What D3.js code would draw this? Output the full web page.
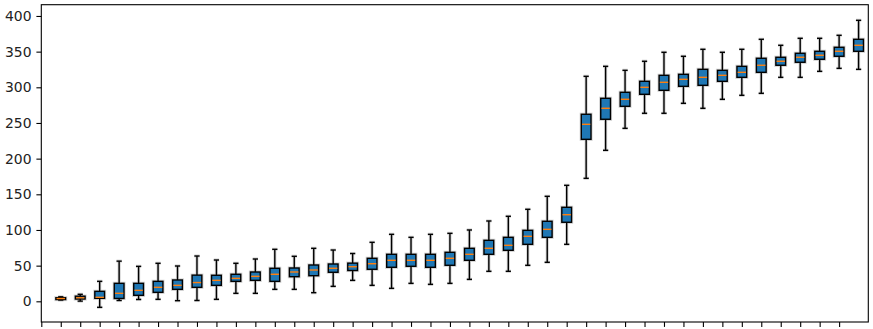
<!DOCTYPE html>
<html>
<head>
<meta charset="utf-8">
<script src="https://cdn.jsdelivr.net/npm/d3@7"></script>
<style>
  html, body { margin: 0; padding: 0; background: #fff; }
  svg { display: block; }
  text { font-family: "DejaVu Sans", sans-serif; }
</style>
</head>
<body>
<svg id="chart" width="873" height="329"></svg>
<script>
// ---- data ----
const positions = d3.range(1, 43);          // box positions 1..42
const tickPositions = d3.range(0, 42);      // x ticks 0..41 (no labels)
const whiskerLow  = [1.8, 0.3, -8.4, 1.2, 2.6, 2.8, 0.9, 1.2, 2.8, 11.2, 11.2, 16.8, 16.8, 12.1, 21.0, 29.4, 22.4, 18.2, 25.2, 23.8, 25.2, 30.8, 42.1, 42.1, 50.5, 54.7, 79.9, 172.4, 211.7, 242.5, 263.6, 263.6, 277.6, 270.6, 283.2, 288.8, 291.6, 314.0, 314.0, 322.4, 326.6, 325.2];
const quartile1   = [2.5, 3.2, 4.2, 4.0, 8.4, 12.6, 16.8, 19.6, 22.4, 28.0, 29.4, 28.0, 34.5, 35.9, 40.7, 43.2, 44.9, 47.7, 49.1, 47.7, 50.5, 57.5, 65.9, 71.5, 79.9, 89.7, 110.8, 227.1, 255.2, 273.4, 290.2, 295.8, 301.4, 302.8, 308.4, 314.0, 321.0, 330.9, 335.1, 339.3, 343.5, 350.5];
const medians     = [3.9, 5.0, 5.6, 11.2, 15.4, 19.6, 22.4, 26.3, 29.4, 32.2, 35.0, 37.9, 41.1, 43.9, 46.3, 48.5, 52.7, 57.5, 57.5, 57.5, 60.3, 65.9, 74.3, 78.5, 91.1, 100.9, 121.4, 248.1, 270.6, 283.2, 300.0, 307.0, 311.2, 314.0, 316.8, 321.0, 330.9, 336.5, 342.1, 344.9, 350.5, 358.9];
const quartile3   = [5.0, 7.2, 14.0, 25.2, 25.2, 28.0, 29.9, 36.7, 36.5, 37.9, 41.1, 46.3, 46.7, 50.9, 52.3, 53.5, 60.3, 65.9, 65.9, 65.9, 68.7, 74.3, 85.5, 89.7, 99.5, 112.2, 131.8, 262.2, 284.6, 293.0, 308.4, 316.8, 318.2, 325.2, 323.8, 329.4, 340.7, 342.1, 347.7, 350.5, 356.1, 367.3];
const whiskerHigh = [6.3, 9.8, 28.0, 56.3, 49.0, 53.3, 49.5, 63.5, 57.9, 53.3, 59.3, 72.9, 63.1, 74.3, 71.9, 67.0, 82.7, 93.9, 89.7, 93.9, 95.3, 100.0, 112.6, 119.2, 129.0, 147.2, 162.6, 315.4, 329.4, 323.8, 336.5, 349.1, 343.5, 353.3, 349.1, 353.3, 367.3, 358.9, 368.7, 368.7, 372.9, 393.9];
const yTicks = [0, 50, 100, 150, 200, 250, 300, 350, 400];

// ---- layout ----
const plot = { left: 41.3, right: 868.3, top: 4.7, bottom: 322 };
const svg = d3.select("#chart");

const x = d3.scaleLinear().domain([0, 42.5]).range([plot.left, plot.right]);
const y = d3.scaleLinear().domain([-29.0, 415.8]).range([plot.bottom, plot.top]);

const boxes = positions.map((p, i) => ({
  pos: p, lo: whiskerLow[i], q1: quartile1[i], med: medians[i], q3: quartile3[i], hi: whiskerHigh[i]
}));

const step = x(1) - x(0);
const boxW = 0.5 * step;
const capW = 0.27 * step;

const g = svg.append("g");

// halo layer (light grey outline under marks)
const halo = g.append("g").attr("stroke", "#d4d4d4").attr("stroke-width", 3.2).attr("fill", "none");
boxes.forEach(b => {
  const cx = x(b.pos);
  halo.append("line").attr("x1", cx).attr("x2", cx).attr("y1", y(b.hi)).attr("y2", y(b.lo));
  halo.append("line").attr("x1", cx - capW / 2).attr("x2", cx + capW / 2).attr("y1", y(b.hi)).attr("y2", y(b.hi));
  halo.append("line").attr("x1", cx - capW / 2).attr("x2", cx + capW / 2).attr("y1", y(b.lo)).attr("y2", y(b.lo));
  halo.append("rect").attr("x", cx - boxW / 2).attr("width", boxW)
    .attr("y", y(b.q3)).attr("height", Math.max(0.5, y(b.q1) - y(b.q3)));
});

// whiskers and caps
const wg = g.append("g").attr("stroke", "#000").attr("stroke-width", 1.4);
boxes.forEach(b => {
  const cx = x(b.pos);
  wg.append("line").attr("x1", cx).attr("x2", cx).attr("y1", y(b.q3)).attr("y2", y(b.hi));
  wg.append("line").attr("x1", cx).attr("x2", cx).attr("y1", y(b.q1)).attr("y2", y(b.lo));
  wg.append("line").attr("x1", cx - capW / 2).attr("x2", cx + capW / 2).attr("y1", y(b.hi)).attr("y2", y(b.hi));
  wg.append("line").attr("x1", cx - capW / 2).attr("x2", cx + capW / 2).attr("y1", y(b.lo)).attr("y2", y(b.lo));
});

// boxes
g.append("g").selectAll("rect").data(boxes).join("rect")
  .attr("x", d => x(d.pos) - boxW / 2)
  .attr("width", boxW)
  .attr("y", d => y(d.q3))
  .attr("height", d => Math.max(0.5, y(d.q1) - y(d.q3)))
  .attr("fill", "#1f77b4")
  .attr("stroke", "#000")
  .attr("stroke-width", 1.4);

// medians
g.append("g").selectAll("line").data(boxes).join("line")
  .attr("x1", d => x(d.pos) - boxW / 2 + 0.7)
  .attr("x2", d => x(d.pos) + boxW / 2 - 0.7)
  .attr("y1", d => y(d.med))
  .attr("y2", d => y(d.med))
  .attr("stroke", "#ff7f0e")
  .attr("stroke-width", 1.4);

// frame
svg.append("rect")
  .attr("x", plot.left).attr("y", plot.top)
  .attr("width", plot.right - plot.left).attr("height", plot.bottom - plot.top)
  .attr("fill", "none").attr("stroke", "#000").attr("stroke-width", 1.1);

// y axis
const yAxis = d3.axisLeft(y).tickValues(yTicks).tickSize(4.9).tickPadding(4.9).tickFormat(d3.format("d"));
const ya = svg.append("g").attr("transform", `translate(${plot.left},0)`).call(yAxis);
ya.select(".domain").remove();
ya.selectAll(".tick line").attr("stroke", "#000").attr("stroke-width", 1.1);
ya.selectAll(".tick text").attr("font-size", "13.9px").attr("fill", "#222")
  .attr("font-family", "DejaVu Sans, sans-serif");

// x axis (ticks, no labels)
const xAxis = d3.axisBottom(x).tickValues(tickPositions).tickSize(4.9).tickFormat(() => "");
const xa = svg.append("g").attr("transform", `translate(0,${plot.bottom})`).call(xAxis);
xa.select(".domain").remove();
xa.selectAll(".tick line").attr("stroke", "#000").attr("stroke-width", 1.1);
</script>
</body>
</html>
